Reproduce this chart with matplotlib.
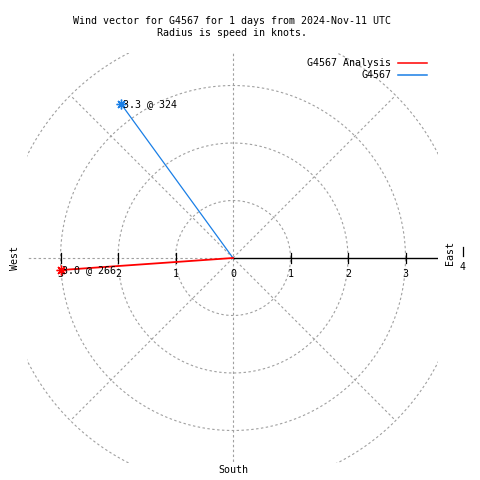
import numpy as np
from matplotlib import pyplot as plt

# wind vectors: speed (knots) and direction (degrees, clockwise from north)
names = ['G4567 Analysis', 'G4567']
speeds = [3.0, 3.3]
directions = [266, 324]
colors = ['#ff0000', '#1a7fe6']

rings = [1, 2, 3, 4]
spokes = [45, 135, 225, 315]
tick_vals = [1, 2, 3]

title = 'Wind vector for G4567 for 1 days from 2024-Nov-11 UTC\nRadius is speed in knots.'

plt.rcParams['font.family'] = 'DejaVu Sans Mono'
plt.rcParams['font.size'] = 7.2

fig = plt.figure(figsize=(4.8, 4.8), dpi=100)
s = 57.5  # pixels per knot
cx, cy = 233, 258
left, right, top, bottom = 27, 438, 53, 463
ax = fig.add_axes([left / 480, 1 - bottom / 480, (right - left) / 480, (bottom - top) / 480])
ax.set_xlim((left - cx) / s, (right - cx) / s)
ax.set_ylim(-(bottom - cy) / s, (cy - top) / s)
ax.set_axis_off()

grey = '#a0a0a0'
dash = (0, (2.2, 2.2))
t = np.linspace(0, 2 * np.pi, 400)
for r in rings:
    ax.plot(r * np.cos(t), r * np.sin(t), color=grey, lw=0.8, ls=dash)
for a in spokes:
    ax.plot([0, 4 * np.cos(np.radians(a))], [0, 4 * np.sin(np.radians(a))],
            color=grey, lw=0.8, ls=dash)
ax.plot([0, 0], [-5, 5], color=grey, lw=0.8, ls=dash)
ax.plot([-5, 0], [0, 0], color=grey, lw=0.8, ls=dash)
ax.plot([0, 5], [0, 0], color='black', lw=1.0)

# tick marks and labels along the east-west line
for v in tick_vals:
    for sign in (-1, 1):
        ax.plot([sign * v, sign * v], [-0.09, 0.09], color='black', lw=0.9)
        ax.text(sign * v, -0.28, str(v), ha='center', va='center')
ax.text(0, -0.28, '0', ha='center', va='center')
ax.text(4, -0.16, '4', ha='center', va='center', clip_on=False)
ax.plot([4, 4], [0.04, 0.2], color='black', lw=0.9, clip_on=False)

ax.text((450 - cx) / s, 0.09, 'East', rotation=90, ha='center', va='center', clip_on=False)
ax.text((15 - cx) / s, 0.0, 'West', rotation=90, ha='center', va='center', clip_on=False)
ax.text(0, -(470 - cy) / s, 'South', ha='center', va='center', clip_on=False)

# wind vectors
for name, spd, d, c in zip(names, speeds, directions, colors):
    x = spd * np.sin(np.radians(d))
    y = spd * np.cos(np.radians(d))
    ax.plot([0, x], [0, y], color=c, lw=1.3 if c == '#ff0000' else 0.9,
            zorder=5 if c == '#ff0000' else 4)
    ax.plot([x], [y], marker=(8, 2, 0), color=c, ms=7, mew=1.0, zorder=6)
    ax.text(x + 0.02, y, f'{spd:.1f} @ {d}', ha='left', va='center', zorder=7)

# legend
for i, (name, c) in enumerate(zip(names, colors)):
    yy = 1 - (63 + 12 * i) / 480
    fig.text(391 / 480, yy, name, ha='right', va='center')
    fig.add_artist(plt.Line2D([398 / 480, 427 / 480], [yy, yy], color=c, lw=1.1))

fig.text(232 / 480, 1 - 27 / 480, title, ha='center', va='center', linespacing=1.15)

plt.savefig('out.png', dpi=100)
